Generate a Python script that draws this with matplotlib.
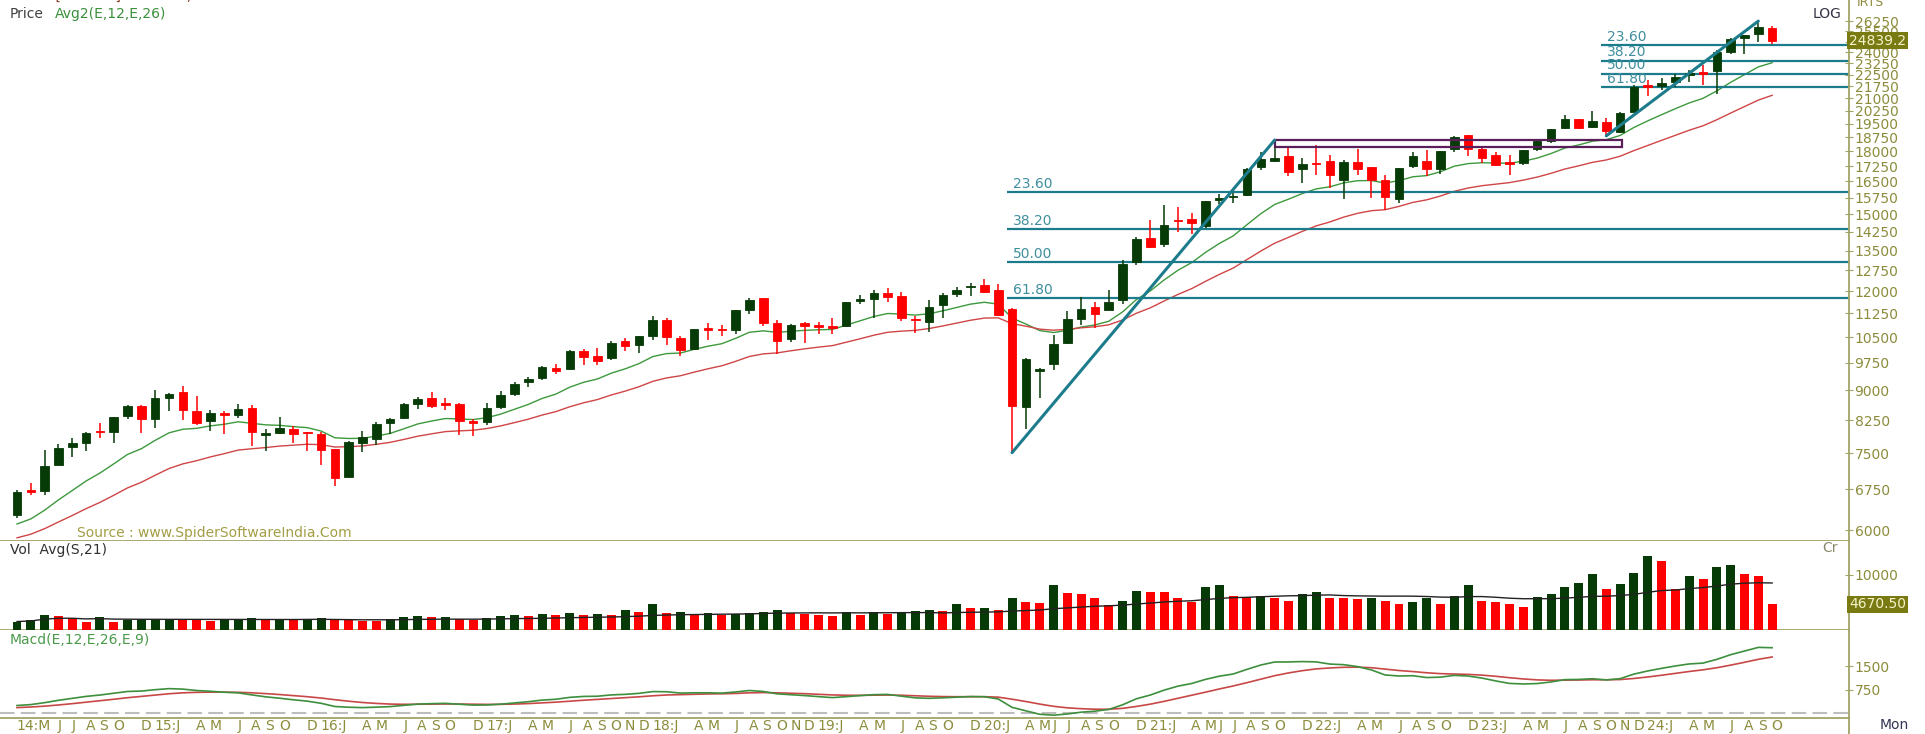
import numpy as np
import pandas as pd
import matplotlib
matplotlib.use("Agg")
import matplotlib.pyplot as plt
import matplotlib.transforms as mtransforms
from matplotlib.patches import Rectangle
from matplotlib.lines import Line2D
from matplotlib.ticker import NullLocator

plt.rcParams["font.family"] = ["DejaVu Sans"]

# NIFTY monthly candles, Mar 2014 .. Oct 2024 (last month still running)
opens = [6265, 6710, 6710, 7245, 7625, 7731, 7968, 7973, 8350, 8605,
         8272, 8806, 8953, 8483, 8230, 8417, 8376, 8550, 7907, 7955, 8054, 7958,
         7938, 7589, 7002, 7718, 7822, 8180, 8313, 8654, 8793, 8666, 8654, 8244,
         8210, 8570, 8905, 9220, 9339, 9604, 9587, 10101, 9937, 9893, 10390, 10263,
         10532, 11045, 10480, 10151, 10783, 10738, 10732, 11359, 11751, 10930, 10441, 10930,
         10882, 10852, 10842, 11665, 11726, 11953, 11839, 11060, 10960, 11515, 11886, 12137,
         12202, 12032, 11388, 8584, 9533, 9726, 10323, 11058, 11464, 11364, 11697, 13062,
         14018, 13759, 14703, 14798, 14481, 15629, 15755, 15874, 17185, 17531, 17783, 17104,
         17388, 17529, 16593, 17436, 17193, 16594, 15704, 17244, 17485, 17102, 18130, 18871,
         18131, 17811, 17451, 17428, 18124, 18579, 19246, 19784, 19345, 19622, 19064, 20194,
         21727, 21780, 22048, 22455, 22637, 22720, 24059, 25030, 25333, 25789]
highs = [6730, 6869, 7563, 7700, 7841, 7968, 8180, 8331, 8617, 8627,
         8996, 8941, 9119, 8844, 8490, 8467, 8655, 8622, 8055, 8336, 8116, 7979,
         7973, 7600, 7777, 7992, 8213, 8308, 8674, 8819, 8968, 8806, 8669, 8274,
         8672, 8982, 9218, 9367, 9650, 9709, 10115, 10138, 10179, 10384, 10490, 10552,
         11172, 11117, 10526, 10759, 10929, 10893, 11366, 11760, 11752, 11035, 10922, 10985,
         10987, 11118, 11630, 11856, 12041, 12103, 11982, 11182, 11695, 11945, 12159, 12294,
         12430, 12247, 11433, 9889, 9598, 10554, 11341, 11794, 11618, 12025, 13146, 14024,
         14754, 15432, 15336, 15044, 15606, 15916, 15962, 17154, 17948, 18604, 18210, 17640,
         18350, 17794, 17560, 18115, 17194, 16794, 17172, 17992, 18096, 18022, 18816, 18887,
         18251, 17972, 17799, 18089, 18662, 19201, 19992, 19796, 20222, 19849, 20158, 21801,
         22124, 22297, 22527, 22795, 23111, 24174, 24999, 25268, 26278, 25908]
lows = [6212, 6650, 6638, 7239, 7422, 7540, 7842, 7724, 8290, 7961,
        8065, 8470, 8269, 8144, 7998, 7940, 8315, 7667, 7540, 7930, 7714, 7551,
        7241, 6825, 6990, 7516, 7678, 7927, 8287, 8518, 8555, 8506, 7916, 7893,
        8133, 8537, 8860, 9075, 9269, 9448, 9543, 9686, 9688, 9831, 10094, 10033,
        10404, 10276, 9951, 10112, 10418, 10550, 10604, 11234, 10850, 10005, 10342, 10334,
        10583, 10586, 10817, 11549, 11108, 11625, 11011, 10637, 10670, 11090, 11802, 11832,
        11929, 11175, 7511, 8056, 8807, 9544, 10300, 10882, 10790, 11347, 11557, 12962,
        13597, 13662, 14265, 14151, 14417, 15450, 15514, 15834, 17055, 17452, 16782, 16410,
        16837, 16203, 15671, 16824, 15735, 15183, 15511, 17154, 16748, 16855, 17959, 17774,
        17405, 17255, 16828, 17312, 18042, 18464, 19234, 19223, 19255, 18838, 18974, 20183,
        21137, 21530, 21710, 22001, 21822, 21281, 23893, 23894, 24754, 24567]
closes = [6704, 6696, 7230, 7611, 7721, 7954, 7965, 8322, 8588, 8283,
          8809, 8902, 8491, 8182, 8434, 8369, 8533, 7971, 7949, 8066, 7935, 7946,
          7564, 6987, 7738, 7850, 8160, 8288, 8639, 8786, 8611, 8626, 8224, 8186,
          8561, 8880, 9174, 9304, 9621, 9521, 10077, 9918, 9789, 10335, 10227, 10531,
          11028, 10493, 10114, 10739, 10736, 10714, 11357, 11681, 10930, 10387, 10877, 10863,
          10831, 10793, 11624, 11748, 11923, 11789, 11118, 11023, 11474, 11877, 12056, 12168,
          11962, 11202, 8598, 9860, 9580, 10302, 11073, 11388, 11248, 11642, 12969, 13982,
          13635, 14529, 14691, 14631, 15583, 15722, 15763, 17132, 17618, 17672, 16983, 17354,
          17340, 16794, 17465, 17103, 16585, 15780, 17158, 17759, 17094, 18012, 18758, 18105,
          17662, 17304, 17360, 18065, 18534, 19189, 19754, 19254, 19638, 19080, 20133, 21731,
          21726, 21983, 22327, 22605, 22531, 24011, 24951, 25236, 25811, 24839.2]
# closes of Jan 2011 .. Feb 2014, only used to warm up the averages
history_closes = [5506, 5333, 5834, 5750, 5560, 5647, 5482, 5001, 4943, 5327, 4832, 4624,
                  5199, 5385, 5296, 5248, 4924, 5279, 5229, 5259, 5703, 5620, 5880, 5905,
                  6035, 5693, 5683, 5930, 5986, 5843, 5742, 5472, 5735, 6299, 6176, 6304,
                  6090, 6277]
# monthly volume (Cr)
volumes = [1540, 1730, 2650, 2600, 2160, 1420, 2350, 1420, 1730, 1850,
           1900, 2040, 1850, 1730, 1700, 1850, 2040, 2160, 1730, 1800, 1750, 1980,
           2160, 1980, 1750, 1700, 1650, 1980, 2350, 2530, 2350, 2400, 1980, 1730,
           2160, 2600, 2650, 2470, 2960, 2650, 3090, 2780, 2960, 2780, 3580, 3330,
           4690, 3150, 3200, 2960, 3000, 2800, 2900, 3100, 3300, 3600, 3000, 2900,
           2800, 2600, 3200, 2700, 3300, 2900, 3300, 3500, 3600, 3400, 4690, 4020,
           4050, 3570, 5800, 5130, 4910, 8260, 6700, 6470, 5800, 4460, 5360, 7140,
           6920, 6900, 5800, 5130, 7810, 8260, 6250, 6030, 6250, 5800, 5360, 6470,
           6920, 5800, 5780, 5580, 5800, 5360, 4690, 5130, 5800, 4690, 6250, 8260,
           5360, 5130, 4690, 4240, 6030, 6470, 7810, 8480, 10270, 7400, 8300, 10300,
           13500, 12500, 7400, 9900, 9300, 11500, 11800, 10100, 9750, 4670.5]

# swing points for the fibonacci retracements / trend lines: (index, price)
swing1_low, swing1_high = (72, 7511.10), (91, 18604.45)
swing2_low, swing2_high = (115, 18837.85), (126, 26277.35)
fib_ratios = [23.6, 38.2, 50.0, 61.8]
# consolidation box (index range, price range)
box_x = (91, 116.1)
box_y = (18240, 18604)

price_ticks = list(range(6000, 26251, 750))
vol_ticks = [10000]
macd_ticks = [750, 1500]

tick_pos = [0, 3, 4, 5, 6, 7, 9,
            10, 13, 14, 16, 17, 18, 19, 21,
            22, 25, 26, 28, 29, 30, 31, 33,
            34, 37, 38, 40, 41, 42, 43, 44, 45,
            46, 49, 50, 52, 53, 54, 55, 56, 57,
            58, 61, 62, 64, 65, 66, 67, 69,
            70, 73, 74, 75, 76, 77, 78, 79, 81,
            82, 85, 86, 87, 88, 89, 90, 91, 93,
            94, 97, 98, 100, 101, 102, 103, 105,
            106, 109, 110, 112, 113, 114, 115, 116, 117,
            118, 121, 122, 124, 125, 126, 127]
tick_text = ["14:M", "J", "J", "A", "S", "O", "D",
             "15:J", "A", "M", "J", "A", "S", "O", "D",
             "16:J", "A", "M", "J", "A", "S", "O", "D",
             "17:J", "A", "M", "J", "A", "S", "O", "N", "D",
             "18:J", "A", "M", "J", "A", "S", "O", "N", "D",
             "19:J", "A", "M", "J", "A", "S", "O", "D",
             "20:J", "A", "M", "J", "J", "A", "S", "O", "D",
             "21:J", "A", "M", "J", "J", "A", "S", "O", "D",
             "22:J", "A", "M", "J", "A", "S", "O", "D",
             "23:J", "A", "M", "J", "A", "S", "O", "N", "D",
             "24:J", "A", "M", "J", "A", "S", "O"]

# colours
GREEN = "#063a06"
RED = "#ff0000"
OLIVE = "#a3a366"
OLIVE_TXT = "#8c8c3c"
TEAL = "#1c7c8c"
TEAL_TXT = "#3f8f9e"

W, H = 1925, 734
AXIS_X = 1849
STEP = 13.82  # pixels per month
X0 = 17       # pixel of the first candle

fig = plt.figure(figsize=(W / 100, H / 100), dpi=100)


def box(top, bottom):
    return [0, 1 - bottom / H, AXIS_X / W, (bottom - top) / H]


ax_p = fig.add_axes(box(0, 541))
ax_v = fig.add_axes(box(541, 630), sharex=ax_p)
ax_m = fig.add_axes(box(630, 718), sharex=ax_p)

x = np.arange(len(closes))
o, hi, lo, c = (np.array(a, dtype=float) for a in (opens, highs, lows, closes))

# indicators as given in the panel headers
all_close = pd.Series(history_closes + closes, dtype=float)
n_hist = len(history_closes)
ema12 = all_close.ewm(span=12, adjust=False).mean()
ema26 = all_close.ewm(span=26, adjust=False).mean()
macd = ema12 - ema26
signal = macd.ewm(span=9, adjust=False).mean()
vol = pd.Series(volumes, dtype=float)
vol_avg = vol.rolling(21, min_periods=1).mean()

# ---- price panel
up = c >= o
ccol = np.where(up, GREEN, RED)
ax_p.plot(x, ema12.values[n_hist:], color="#3d993d", lw=1, zorder=2)
ax_p.plot(x, ema26.values[n_hist:], color="#d04545", lw=1, zorder=2)
ax_p.vlines(x, lo, hi, colors=ccol, lw=1.1, zorder=3)
b_lo = np.minimum(o, c)
b_hi = np.maximum(np.maximum(o, c), b_lo * 1.005)
ax_p.bar(x, b_hi - b_lo, bottom=b_lo, width=0.62, color=ccol, edgecolor=ccol,
         lw=0.6, zorder=4)

xmax = (AXIS_X - X0) / STEP
xmin = -X0 / STEP
for (lx, lp), (hx, hp) in [(swing1_low, swing1_high), (swing2_low, swing2_high)]:
    ax_p.plot([lx, hx], [lp, hp], color=TEAL, lw=2.2, zorder=5,
              solid_capstyle="round")
    for r in fib_ratios:
        level = hp - (hp - lp) * r / 100
        ax_p.hlines(level, lx - 0.4, xmax, color=TEAL, lw=1.6, zorder=2.5)
        ax_p.annotate(f"{r:.2f}", (lx + 0.05, level), xytext=(0, 1),
                      textcoords="offset points", ha="left", va="bottom",
                      fontsize=10, color=TEAL_TXT, zorder=6)

ax_p.add_patch(Rectangle((box_x[0], box_y[0]), box_x[1] - box_x[0],
                         box_y[1] - box_y[0], fill=False, edgecolor="#5a1f5a",
                         lw=1.6, zorder=4.5))

ax_p.set_yscale("log")
ax_p.set_ylim(5812, 27940)
ax_p.set_yticks(price_ticks)
ax_p.set_yticklabels([str(t) for t in price_ticks])
ax_p.yaxis.set_minor_locator(NullLocator())

ax_p.text(1.0, closes[-1], f"{closes[-1]:.1f}",
          transform=mtransforms.blended_transform_factory(ax_p.transAxes, ax_p.transData),
          ha="left", va="center", fontsize=10, color="#f4f4cc", zorder=10,
          bbox=dict(boxstyle="square,pad=0.12", fc="#7a7a12", ec="none"),
          clip_on=False)

# ---- volume panel
vcol = [GREEN] + [GREEN if volumes[i] > volumes[i - 1] else RED
                  for i in range(1, len(volumes))]
ax_v.bar(x, volumes, width=0.65, color=vcol, zorder=3)
ax_v.plot(x, vol_avg, color="#222222", lw=1, zorder=4)
ax_v.set_ylim(0, 16180)
ax_v.set_yticks(vol_ticks)
ax_v.set_yticklabels([str(t) for t in vol_ticks])
ax_v.text(1.0, volumes[-1], f"{volumes[-1]:.2f}",
          transform=mtransforms.blended_transform_factory(ax_v.transAxes, ax_v.transData),
          ha="left", va="center", fontsize=10, color="#f4f4cc", zorder=10,
          bbox=dict(boxstyle="square,pad=0.12", fc="#7a7a12", ec="none"),
          clip_on=False)

# ---- macd panel
ax_m.axhline(0, color="#bdbdbd", lw=1.5, dashes=[7, 3], zorder=1)
ax_m.plot(x, macd.values[n_hist:], color="#3d8f3d", lw=1.2, zorder=3)
ax_m.plot(x, signal.values[n_hist:], color="#c84848", lw=1.2, zorder=2)
ax_m.set_ylim(-163, 2673)
ax_m.set_yticks(macd_ticks)
ax_m.set_yticklabels([str(t) for t in macd_ticks])

for ax in (ax_p, ax_v, ax_m):
    ax.set_xlim(xmin, xmax)
    ax.set_facecolor("white")
    ax.spines["left"].set_visible(False)
    ax.spines["top"].set_visible(False)
    ax.spines["right"].set_color(OLIVE)
    ax.spines["bottom"].set_color(OLIVE)
    ax.spines["right"].set_linewidth(1.3)
    ax.spines["bottom"].set_linewidth(1.3)
    ax.yaxis.tick_right()
    ax.tick_params(axis="y", direction="inout", length=6, width=0.8,
                   colors=OLIVE, labelcolor=OLIVE_TXT, labelsize=10, pad=1)
    ax.tick_params(axis="x", bottom=False, labelbottom=False)

# month labels under the macd panel
tr = mtransforms.blended_transform_factory(ax_m.transData, ax_m.transAxes)
for p, t in zip(tick_pos, tick_text):
    ax_m.text(p - 0.05, -0.095, t, transform=tr, ha="left", va="center",
              fontsize=10, color=OLIVE_TXT, clip_on=False)

# axis line continues down to the bottom edge
fig.add_artist(Line2D([AXIS_X / W] * 2, [0, 16 / H], color=OLIVE, lw=1.3))


def ftext(px, py, s, **kw):
    fig.text(px / W, 1 - py / H, s, **kw)


ftext(12, 3, "NIFTY [NS9901]24839.20,", fontsize=10, color="#8a3a2a", va="bottom")
ftext(218, 3, "-3.76%", fontsize=10, color="#e02020", va="bottom")
ftext(10, 14, "Price", fontsize=10, color="#404040", va="center")
ftext(55, 14, "Avg2(E,12,E,26)", fontsize=10, color="#3a8f3a", va="center")
ftext(1813, 14, "LOG", fontsize=10, color="#333344", va="center")
ftext(1857, 2, "IRTS", fontsize=9, color=OLIVE_TXT, va="center")
ftext(77, 533, "Source : www.SpiderSoftwareIndia.Com", fontsize=10,
      color="#a39e45", va="center")
ftext(10, 550, "Vol  Avg(S,21)", fontsize=10, color="#303030", va="center")
ftext(1822, 548, "Cr", fontsize=10, color="#8a8a6a", va="center")
ftext(10, 640, "Macd(E,12,E,26,E,9)", fontsize=10, color="#4a9a4a", va="center")
ftext(1880, 725, "Mon", fontsize=10, color="#333355", va="center")

fig.savefig("out.png", dpi=100, facecolor="white")
